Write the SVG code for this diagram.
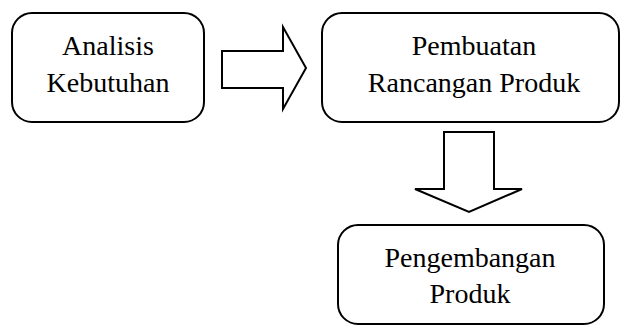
<svg xmlns="http://www.w3.org/2000/svg" width="621" height="326" viewBox="0 0 621 326">
<style>
.box{fill:#fff;stroke:#000;stroke-width:2}
.arr{fill:#fff;stroke:#000;stroke-width:2;stroke-linejoin:miter}
.t{font-family:"Times New Roman","Liberation Serif",Tinos,"DejaVu Serif",serif;font-size:28px;fill:#000;text-anchor:middle}
</style>
<rect width="621" height="326" fill="#fff"/>
<g id="analisis">
<rect class="box" x="12" y="13" width="192" height="109" rx="20"/>
<text class="t" x="108" y="55">Analisis</text>
<text class="t" x="108" y="92">Kebutuhan</text>
</g>
<g id="pembuatan">
<rect class="box" x="322" y="13" width="297" height="109" rx="20"/>
<text class="t" x="474" y="55">Pembuatan</text>
<text class="t" x="474" y="92">Rancangan Produk</text>
</g>
<g id="pengembangan">
<rect class="box" x="338" y="225" width="266" height="99" rx="20"/>
<text class="t" x="470" y="267">Pengembangan</text>
<text class="t" x="470" y="303">Produk</text>
</g>
<g id="connectors">
<path class="arr" d="M222,51 H283 V27 L306,68 L283,109 V88 H222 Z"/>
<path class="arr" d="M444,132 H494 V189 H522 L469,212 L415,189 H444 Z"/>
</g>
</svg>
